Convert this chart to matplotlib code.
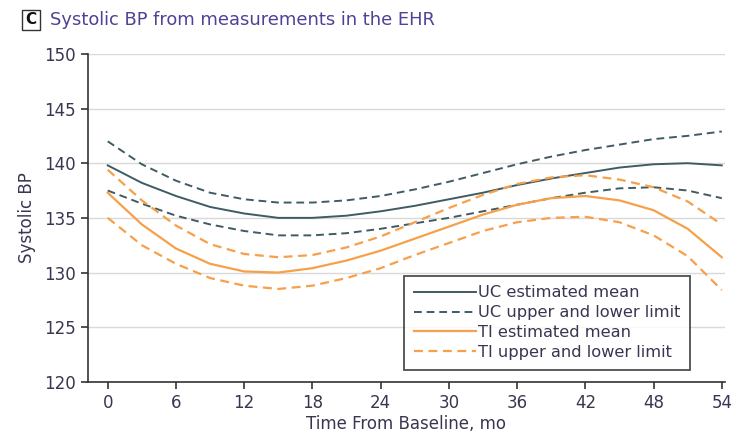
import numpy as np
import matplotlib
matplotlib.use("Agg")
import matplotlib.pyplot as plt
from matplotlib.patches import Rectangle

# months from baseline
months = [0, 3, 6, 9, 12, 15, 18, 21, 24, 27, 30, 33, 36, 39, 42, 45, 48, 51, 54]

uc_mean = [139.8, 138.2, 137.0, 136.0, 135.4, 135.0, 135.0, 135.2, 135.6, 136.1,
           136.7, 137.3, 138.0, 138.6, 139.1, 139.6, 139.9, 140.0, 139.8]
uc_upper = [142.0, 139.9, 138.4, 137.3, 136.7, 136.4, 136.4, 136.6, 137.0, 137.6,
            138.3, 139.1, 139.9, 140.6, 141.2, 141.7, 142.2, 142.5, 142.9]
uc_lower = [137.5, 136.3, 135.2, 134.4, 133.8, 133.4, 133.4, 133.6, 134.0, 134.5,
            135.0, 135.6, 136.2, 136.8, 137.3, 137.7, 137.8, 137.5, 136.8]

ti_mean = [137.3, 134.4, 132.2, 130.8, 130.1, 130.0, 130.4, 131.1, 132.0, 133.1,
           134.2, 135.3, 136.2, 136.8, 137.0, 136.6, 135.7, 134.0, 131.4]
ti_upper = [139.4, 136.6, 134.3, 132.6, 131.7, 131.4, 131.6, 132.3, 133.3, 134.6,
            135.9, 137.1, 138.1, 138.7, 138.9, 138.5, 137.8, 136.5, 134.4]
ti_lower = [135.0, 132.5, 130.8, 129.5, 128.8, 128.5, 128.8, 129.5, 130.4, 131.6,
            132.7, 133.8, 134.6, 135.0, 135.1, 134.6, 133.4, 131.5, 128.4]

x_ticks = list(range(0, 55, 6))
y_ticks = list(range(120, 151, 5))

UC = "#3f5b63"
TI = "#f7a04a"
TXT = "#3a3550"

plt.rcParams["font.family"] = ["DejaVu Sans"]

fig = plt.figure(figsize=(7.37, 4.34), dpi=100)
ax = fig.add_axes([0.119, 0.120, 0.865, 0.756])

ax.plot(months, uc_mean, color=UC, lw=1.4, label="UC estimated mean")
ax.plot(months, uc_upper, color=UC, lw=1.4, ls=(0, (4, 2.5)), label="UC upper and lower limit")
ax.plot(months, uc_lower, color=UC, lw=1.4, ls=(0, (4, 2.5)))
ax.plot(months, ti_mean, color=TI, lw=1.6, label="TI estimated mean")
ax.plot(months, ti_upper, color=TI, lw=1.6, ls=(0, (4, 2.5)), label="TI upper and lower limit")
ax.plot(months, ti_lower, color=TI, lw=1.6, ls=(0, (4, 2.5)))

ax.set_xlim(-1.76, 54.3)
ax.set_ylim(120, 150)
ax.set_xticks(x_ticks)
ax.set_yticks(y_ticks)
ax.yaxis.grid(True, color="#d9d9d9", lw=1)
ax.set_axisbelow(True)
for s in ["top", "right"]:
    ax.spines[s].set_visible(False)
for s in ["left", "bottom"]:
    ax.spines[s].set_color("#333333")
    ax.spines[s].set_linewidth(1.2)
ax.tick_params(direction="out", length=5, width=1.2, color="#333333",
               labelcolor=TXT, labelsize=12)

ax.set_xlabel("Time From Baseline, mo", color=TXT, fontsize=12, labelpad=2)
ax.set_ylabel("Systolic BP", color=TXT, fontsize=12, labelpad=6)

leg = ax.legend(loc="lower right", bbox_to_anchor=(0.945, 0.037), fontsize=11.7,
                frameon=True, fancybox=False, handlelength=3.8, handletextpad=0.15,
                labelspacing=0.3, borderpad=0.6, borderaxespad=0, labelcolor=TXT)
leg.get_frame().set_edgecolor("#222222")
leg.get_frame().set_linewidth(1.3)

fig.patches.append(Rectangle((22 / 737, 1 - 30 / 434), 18 / 737, 20 / 434,
                             transform=fig.transFigure, fill=False,
                             edgecolor="#333333", lw=1))
fig.text(31 / 737, 1 - 20 / 434, "C", ha="center", va="center",
         fontsize=11, fontweight="bold", color="#111111")
fig.text(50 / 737, 1 - 20 / 434, "Systolic BP from measurements in the EHR",
         ha="left", va="center", fontsize=12.9, color="#4d4296")

fig.savefig("out.png", dpi=100)
